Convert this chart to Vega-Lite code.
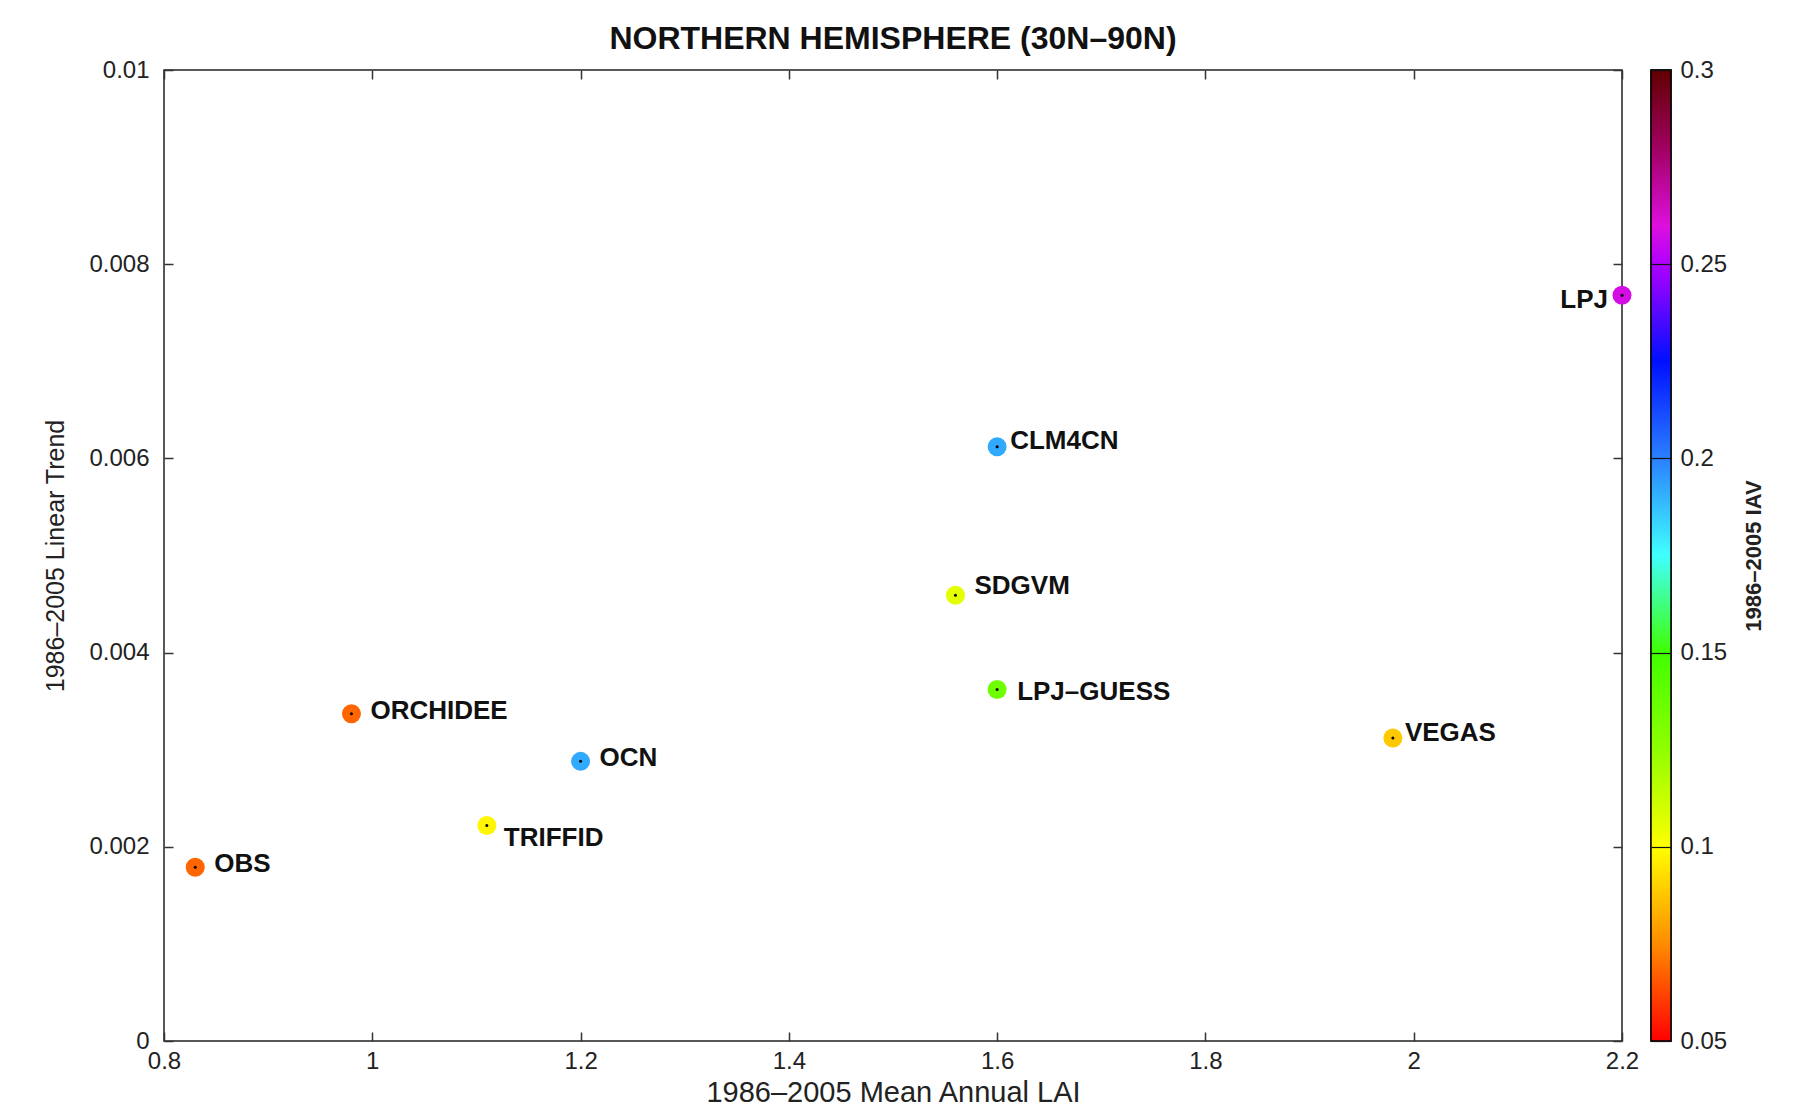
{
  "$schema": "https://vega.github.io/schema/vega-lite/v6.json",
  "background": "white",
  "padding": {"left": 43, "top": 22, "right": 5, "bottom": 5},
  "config": {
    "view": {"stroke": "#222", "strokeWidth": 1.5},
    "axis": {"labelFont": "Liberation Sans", "labelFontSize": 24, "labelColor": "#222", "titleFont": "Liberation Sans", "titleFontWeight": "normal", "titleColor": "#222", "tickColor": "#333", "tickWidth": 1.5, "domainColor": "#222", "grid": false, "labelFlush": false, "labelOverlap": false}
  },
  "spacing": 9,
  "hconcat": [
    {
      "width": 1458,
      "height": 971,
      "title": {"text": "NORTHERN HEMISPHERE (30N–90N)", "font": "Liberation Sans", "fontSize": 32, "fontWeight": "bold", "color": "#111", "offset": 2},
      "data": {"values": [
        {"model": "OBS", "lai": 0.83, "trend": 0.00179, "iav": 0.068},
        {"model": "ORCHIDEE", "lai": 0.98, "trend": 0.00337, "iav": 0.068},
        {"model": "OCN", "lai": 1.20, "trend": 0.00288, "iav": 0.192},
        {"model": "TRIFFID", "lai": 1.11, "trend": 0.00222, "iav": 0.098},
        {"model": "CLM4CN", "lai": 1.60, "trend": 0.00612, "iav": 0.192},
        {"model": "SDGVM", "lai": 1.56, "trend": 0.00459, "iav": 0.106},
        {"model": "LPJ-GUESS", "lai": 1.60, "trend": 0.00362, "iav": 0.135},
        {"model": "VEGAS", "lai": 1.98, "trend": 0.00312, "iav": 0.088},
        {"model": "LPJ", "lai": 2.20, "trend": 0.00768, "iav": 0.258}
      ]},
      "layer": [
        {
          "mark": {"type": "point", "filled": true, "size": 360, "opacity": 1},
          "encoding": {
            "x": {"field": "lai", "type": "quantitative", "scale": {"domain": [0.8, 2.2], "nice": false, "zero": false},
              "axis": {"orient": "bottom", "values": [0.8, 1, 1.2, 1.4, 1.6, 1.8, 2, 2.2], "format": "~g", "tickSize": -9, "labelPadding": 17, "domain": false, "title": "1986–2005 Mean Annual LAI", "titleFontSize": 29, "titlePadding": 5}},
            "y": {"field": "trend", "type": "quantitative", "scale": {"domain": [0, 0.01], "nice": false, "zero": false},
              "axis": {"orient": "left", "values": [0, 0.002, 0.004, 0.006, 0.008, 0.01], "format": "~g", "tickSize": -9, "labelPadding": 24, "domain": false, "title": "1986–2005 Linear Trend", "titleFontSize": 25, "titlePadding": 20}},
            "color": {"field": "iav", "type": "quantitative", "legend": null,
              "scale": {"domain": [0.05, 0.075, 0.1, 0.125, 0.15, 0.175, 0.2, 0.225, 0.25, 0.26, 0.28, 0.3],
                "range": ["#ff0000", "#ff8c00", "#ffff00", "#90ff00", "#40ff00", "#40ffff", "#2a80ff", "#0010ff", "#b000ff", "#dd10dd", "#a00060", "#600000"], "interpolate": "rgb"}}
          }
        },
        {
          "mark": {"type": "point", "filled": true, "size": 9, "color": "black", "opacity": 1},
          "encoding": {
            "x": {"field": "lai", "type": "quantitative", "axis": null},
            "y": {"field": "trend", "type": "quantitative", "axis": null}
          }
        },
        {
          "transform": [{"filter": {"field": "model", "oneOf": ["OBS", "ORCHIDEE", "OCN"]}}],
          "mark": {"type": "text", "align": "left", "baseline": "middle", "dx": 19, "dy": -3, "font": "Liberation Sans", "fontSize": 26, "fontWeight": "bold", "color": "#111"},
          "encoding": {
            "x": {"field": "lai", "type": "quantitative", "axis": {"orient": "top", "values": [0.8, 1, 1.2, 1.4, 1.6, 1.8, 2, 2.2], "labels": false, "tickSize": -9, "domain": false, "title": null}},
            "y": {"field": "trend", "type": "quantitative", "axis": {"orient": "right", "values": [0, 0.002, 0.004, 0.006, 0.008, 0.01], "labels": false, "tickSize": -9, "domain": false, "title": null}},
            "text": {"field": "model"}
          }
        },
        {
          "transform": [{"filter": {"field": "model", "equal": "TRIFFID"}}],
          "mark": {"type": "text", "align": "left", "baseline": "middle", "dx": 17, "dy": 13, "font": "Liberation Sans", "fontSize": 26, "fontWeight": "bold", "color": "#111"},
          "encoding": {"x": {"field": "lai", "type": "quantitative", "axis": null}, "y": {"field": "trend", "type": "quantitative", "axis": null}, "text": {"field": "model"}}
        },
        {
          "transform": [{"filter": {"field": "model", "equal": "CLM4CN"}}],
          "mark": {"type": "text", "align": "left", "baseline": "middle", "dx": 13, "dy": -6, "font": "Liberation Sans", "fontSize": 26, "fontWeight": "bold", "color": "#111"},
          "encoding": {"x": {"field": "lai", "type": "quantitative", "axis": null}, "y": {"field": "trend", "type": "quantitative", "axis": null}, "text": {"field": "model"}}
        },
        {
          "transform": [{"filter": {"field": "model", "equal": "SDGVM"}}],
          "mark": {"type": "text", "align": "left", "baseline": "middle", "dx": 19, "dy": -9, "font": "Liberation Sans", "fontSize": 26, "fontWeight": "bold", "color": "#111"},
          "encoding": {"x": {"field": "lai", "type": "quantitative", "axis": null}, "y": {"field": "trend", "type": "quantitative", "axis": null}, "text": {"field": "model"}}
        },
        {
          "transform": [{"filter": {"field": "model", "equal": "LPJ-GUESS"}}],
          "mark": {"type": "text", "align": "left", "baseline": "middle", "dx": 20, "dy": 3, "font": "Liberation Sans", "fontSize": 26, "fontWeight": "bold", "color": "#111"},
          "encoding": {"x": {"field": "lai", "type": "quantitative", "axis": null}, "y": {"field": "trend", "type": "quantitative", "axis": null}, "text": {"value": "LPJ–GUESS"}}
        },
        {
          "transform": [{"filter": {"field": "model", "equal": "VEGAS"}}],
          "mark": {"type": "text", "align": "left", "baseline": "middle", "dx": 12, "dy": -5, "font": "Liberation Sans", "fontSize": 26, "fontWeight": "bold", "color": "#111"},
          "encoding": {"x": {"field": "lai", "type": "quantitative", "axis": null}, "y": {"field": "trend", "type": "quantitative", "axis": null}, "text": {"field": "model"}}
        },
        {
          "transform": [{"filter": {"field": "model", "equal": "LPJ"}}],
          "mark": {"type": "text", "align": "right", "baseline": "middle", "dx": -14, "dy": 5, "font": "Liberation Sans", "fontSize": 26, "fontWeight": "bold", "color": "#111"},
          "encoding": {"x": {"field": "lai", "type": "quantitative", "axis": null}, "y": {"field": "trend", "type": "quantitative", "axis": null}, "text": {"field": "model"}}
        }
      ],
      "resolve": {"axis": {"x": "independent", "y": "independent"}}
    },
    {
      "width": 20,
      "height": 971,
      "data": {"values": [{"lo": 0.05, "hi": 0.3}]},
      "mark": {"type": "rect", "stroke": "black", "strokeWidth": 1.5,
        "fill": {"gradient": "linear", "x1": 0, "y1": 1, "x2": 0, "y2": 0,
          "stops": [
            {"offset": 0, "color": "#ff0000"},
            {"offset": 0.1, "color": "#ff8c00"},
            {"offset": 0.2, "color": "#ffff00"},
            {"offset": 0.3, "color": "#90ff00"},
            {"offset": 0.4, "color": "#40ff00"},
            {"offset": 0.5, "color": "#40ffff"},
            {"offset": 0.6, "color": "#2a80ff"},
            {"offset": 0.7, "color": "#0010ff"},
            {"offset": 0.8, "color": "#b000ff"},
            {"offset": 0.84, "color": "#dd10dd"},
            {"offset": 0.92, "color": "#a00060"},
            {"offset": 1, "color": "#600000"}
          ]}},
      "encoding": {
        "y": {"field": "lo", "type": "quantitative", "scale": {"domain": [0.05, 0.3], "nice": false, "zero": false},
          "axis": {"orient": "right", "values": [0.05, 0.1, 0.15, 0.2, 0.25, 0.3], "format": "~g", "ticks": false, "labelPadding": 9, "grid": true, "gridColor": "#111", "gridWidth": 1.2, "domain": false, "zindex": 1,
            "title": "1986–2005 IAV", "titleFont": "Liberation Sans", "titleFontWeight": "bold", "titleFontSize": 22, "titleAngle": -90, "titlePadding": 39}},
        "y2": {"field": "hi"}
      }
    }
  ]
}
